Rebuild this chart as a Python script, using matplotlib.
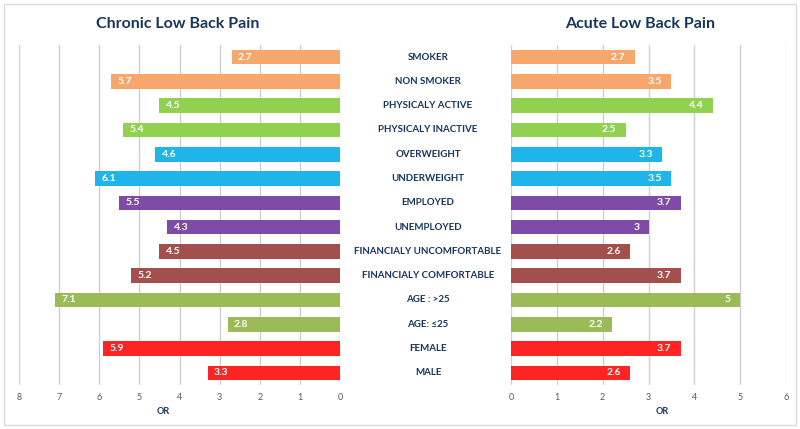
import matplotlib
matplotlib.use('Agg')
import matplotlib.pyplot as plt
from matplotlib.patches import Rectangle
import numpy as np

# ------------------------------------
# Data
# ------------------------------------
categories = ['SMOKER', 'NON SMOKER', 'PHYSICALY ACTIVE', 'PHYSICALY INACTIVE',
              'OVERWEIGHT', 'UNDERWEIGHT', 'EMPLOYED', 'UNEMPLOYED',
              'FINANCIALY UNCOMFORTABLE', 'FINANCIALY COMFORTABLE',
              'AGE : >25', 'AGE: \u226425', 'FEMALE', 'MALE']
chronic = [2.7, 5.7, 4.5, 5.4, 4.6, 6.1, 5.5, 4.3, 4.5, 5.2, 7.1, 2.8, 5.9, 3.3]
acute = [2.7, 3.5, 4.4, 2.5, 3.3, 3.5, 3.7, 3, 2.6, 3.7, 5, 2.2, 3.7, 2.6]
left_ticks = [8, 7, 6, 5, 4, 3, 2, 1, 0]
right_ticks = [0, 1, 2, 3, 4, 5, 6]

group_colors = ['#F7A66C', '#92D050', '#1FB5EA', '#7E4CA6',
                '#A34F4E', '#9BBB59', '#FF2424']
colors = [c for c in group_colors for _ in range(2)]

navy = '#17365D'
font = 'Lato'

fig = plt.figure(figsize=(8, 4.29), dpi=100)
W, H = 800, 429


def px_axes(x0, x1, y_top, y_bot):
    return fig.add_axes([x0 / W, 1 - y_bot / H, (x1 - x0) / W, (y_bot - y_top) / H])


y = np.arange(len(categories))

ax_l = px_axes(19, 340, 45, 385)
ax_r = px_axes(511, 786, 45, 385)

for ax, vals, ticks, lim in [(ax_l, chronic, left_ticks, (8, 0)),
                             (ax_r, acute, right_ticks, (0, 6))]:
    ax.barh(y, vals, height=0.6, color=colors, zorder=2)
    ax.set_xlim(*lim)
    ax.set_ylim(len(categories) - 0.5, -0.5)
    ax.set_xticks(ticks)
    ax.set_yticks([])
    ax.grid(axis='x', color='#D0D0D0', linewidth=1, zorder=0)
    for s in ax.spines.values():
        s.set_visible(False)
    ax.tick_params(axis='x', length=0, pad=6, labelsize=6.5, labelcolor='#595959')
    for lab in ax.get_xticklabels():
        lab.set_family(font)
    ax.set_xlabel('OR', fontsize=6.5, color=navy, fontweight='bold', family=font,
                  labelpad=4)

ax_l.xaxis.set_label_coords(0.45, -0.065)
ax_r.xaxis.set_label_coords(0.55, -0.065)

# value labels
for yi, v in zip(y, chronic):
    ax_l.text(v - 0.15, yi, str(v), ha='left', va='center', color='white',
              fontsize=7.5, fontweight='bold', family=font, zorder=3)
for yi, v in zip(y, acute):
    ax_r.text(v - 0.2, yi, str(v), ha='right', va='center', color='white',
              fontsize=7.5, fontweight='bold', family=font, zorder=3)

# category labels in the middle
trans = ax_l.get_yaxis_transform()
for yi, c in zip(y, categories):
    ax_l.text((428 - 19) / 321, yi, c, transform=trans, ha='center', va='center',
              fontsize=7, fontweight='bold', color=navy, family=font, clip_on=False)

# titles
fig.text(178 / W, 1 - 24 / H, 'Chronic Low Back Pain', ha='center', va='center',
         fontsize=11.5, fontweight='bold', color=navy, family=font)
fig.text(640 / W, 1 - 24 / H, 'Acute Low Back Pain', ha='center', va='center',
         fontsize=11.5, fontweight='bold', color=navy, family=font)

# outer frame
fig.patches.append(Rectangle((4 / W, 4 / H), 792 / W, 421 / H, transform=fig.transFigure,
                             fill=False, edgecolor='#D9D9D9', linewidth=1))

fig.savefig('out.png', dpi=100)
